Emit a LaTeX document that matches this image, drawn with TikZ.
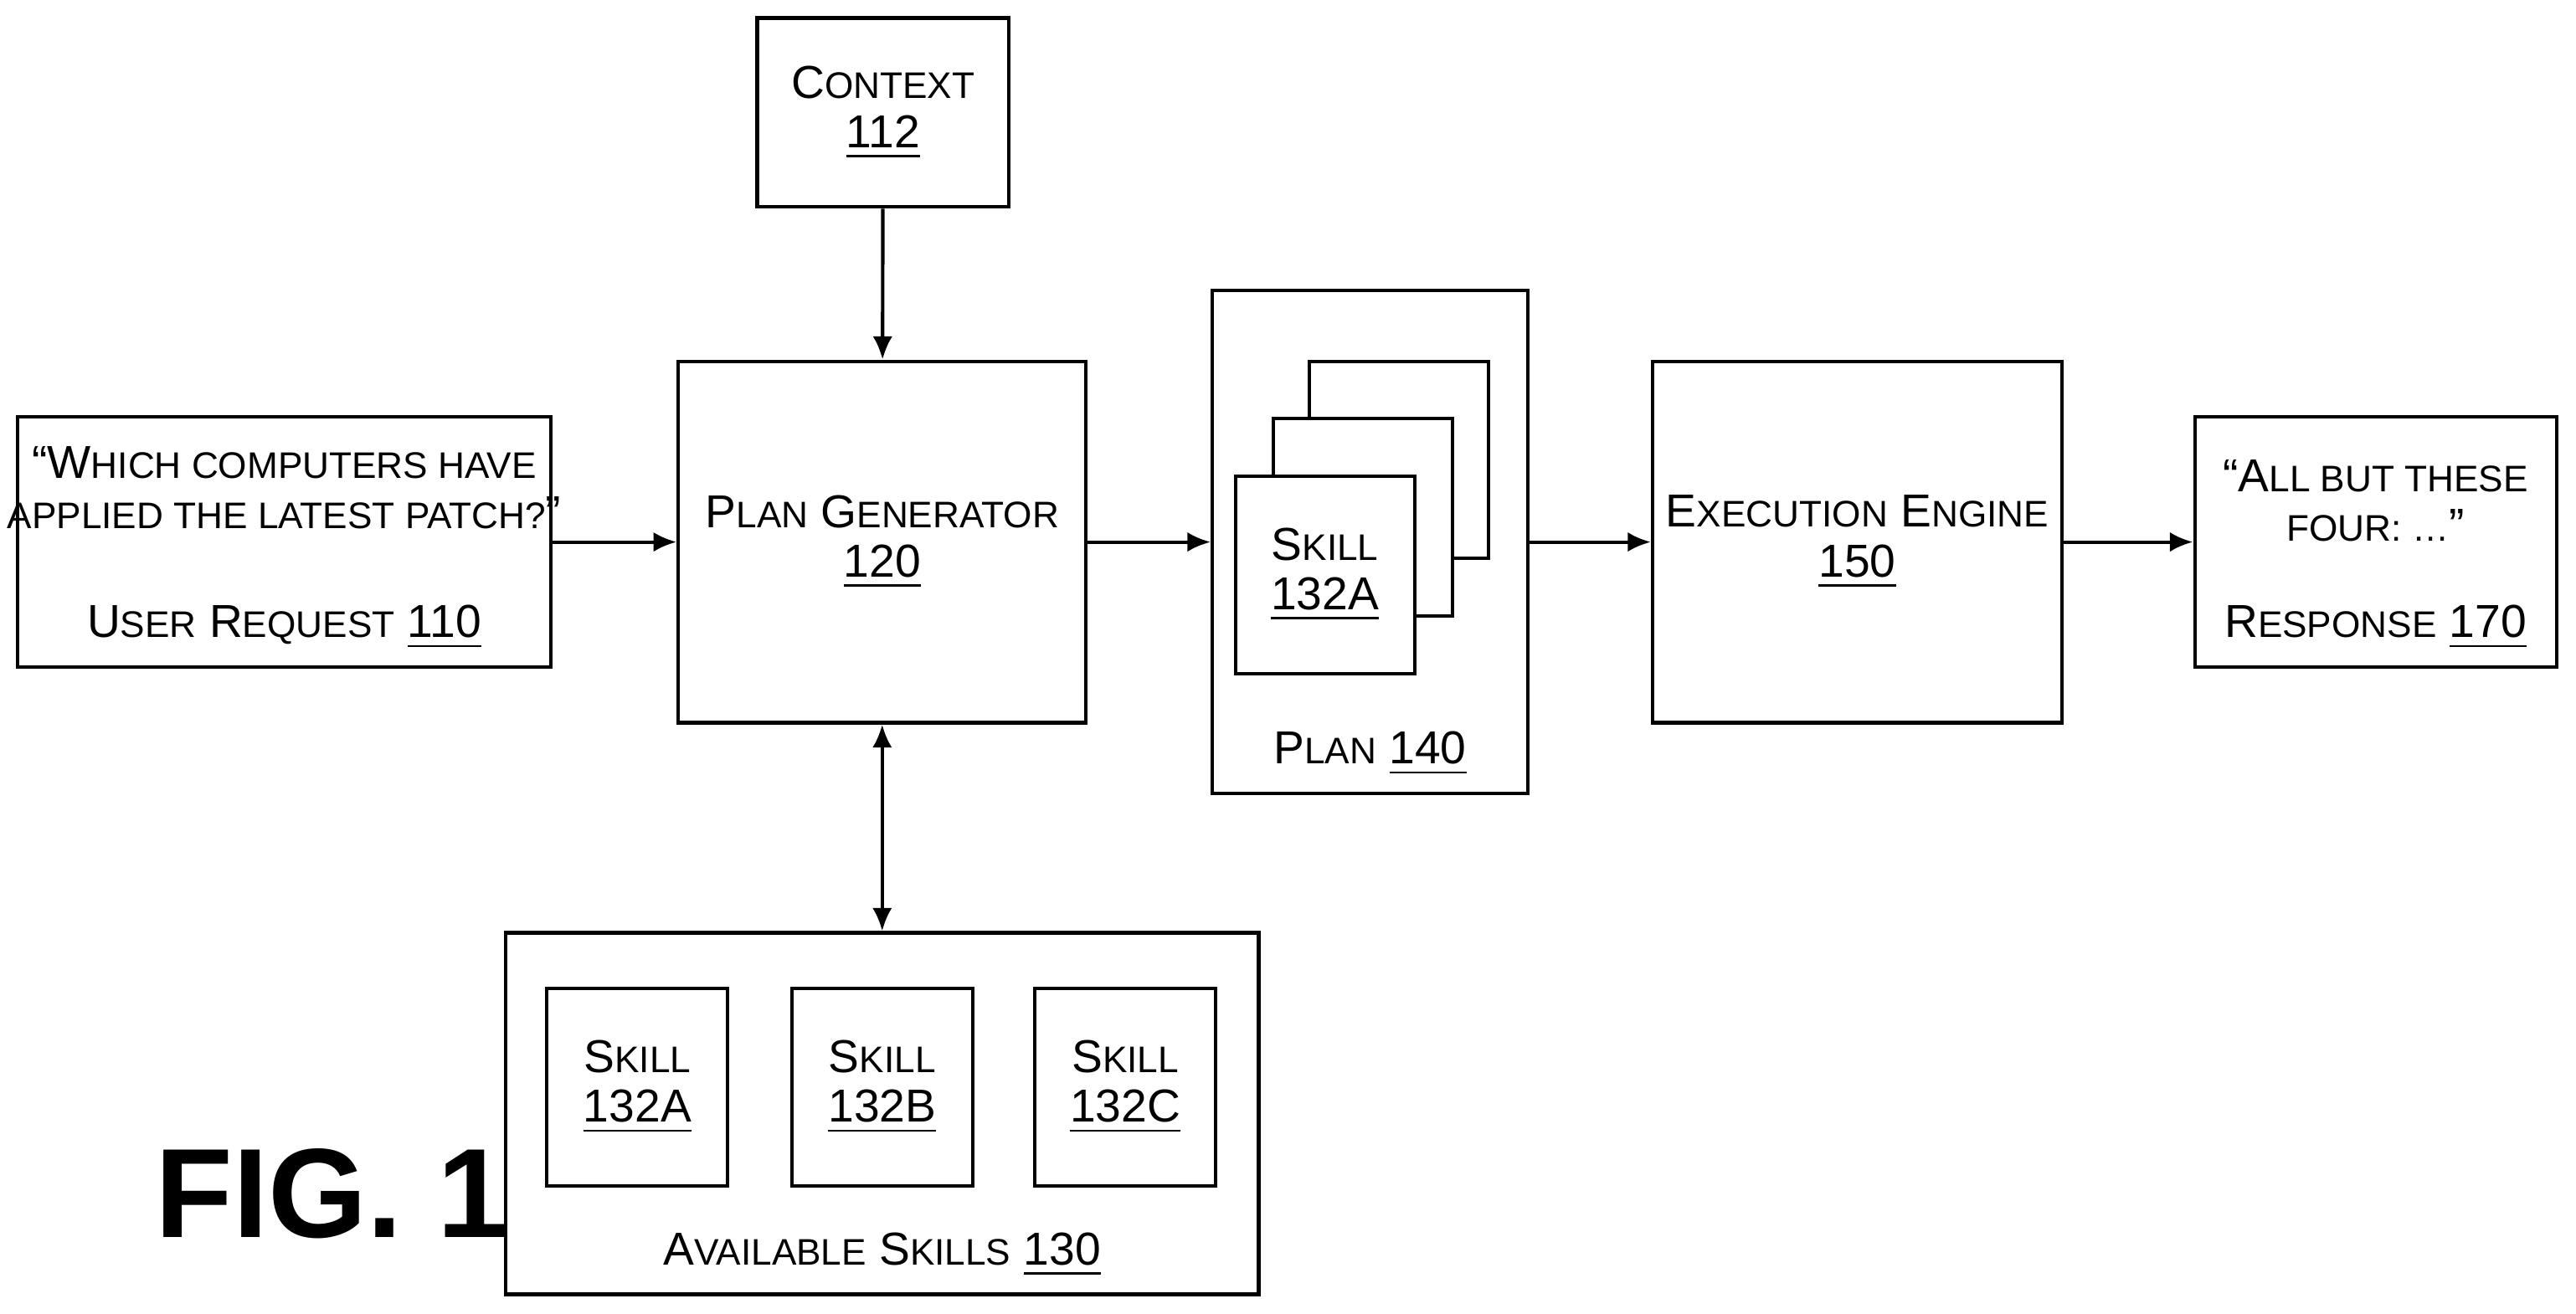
\documentclass[tikz,border=0pt]{standalone}
\usepackage{fontspec}
\setmainfont{Liberation Sans}
\usetikzlibrary{arrows.meta}

% fake small caps: first letter full size, rest smaller capitals
\newcommand{\smc}[2]{#1{\fontsize{6.4}{8.6}\selectfont\MakeUppercase{#2}}}

\tikzset{
  box/.style={draw, line width=0.6pt, inner sep=0pt, align=center,
    font=\fontsize{8}{8.6}\selectfont},
  label/.style={inner sep=0pt, align=center, font=\fontsize{8}{8.6}\selectfont},
  arr/.style={line width=0.6pt, -{Latex[length=4pt,width=3.4pt]}},
  darr/.style={line width=0.6pt, {Latex[length=4pt,width=3.4pt]}-{Latex[length=4pt,width=3.4pt]}}
}

\begin{document}
\begin{tikzpicture}[x=0.01cm,y=-0.01cm]
  \useasboundingbox (0,0) rectangle (1568,800);

  % main boxes
  \node[box, minimum width=1.53cm, minimum height=1.15cm] (context) at (537.5,68.5)
    {\smc{C}{ontext}\\\underline{112}};
  \node[box, minimum width=2.48cm, minimum height=2.2cm] (generator) at (537,330)
    {\smc{P}{lan} \smc{G}{enerator}\\\underline{120}};
  \node[box, minimum width=3.24cm, minimum height=1.52cm] (request) at (173,330) {};
  \node[box, minimum width=1.92cm, minimum height=3.06cm] (plan) at (834,330) {};
  \node[box, minimum width=2.49cm, minimum height=2.2cm] (engine) at (1130.5,330)
    {\smc{E}{xecution} \smc{E}{ngine}\\\underline{150}};
  \node[box, minimum width=2.2cm, minimum height=1.52cm] (response) at (1446,330) {};
  \node[box, minimum width=4.58cm, minimum height=2.2cm] (available) at (537,678) {};

  % texts of the boxes
  \node[label] (request text) at (173,297)
    {“\smc{W}{hich computers have}\\\smc{}{applied the latest patch?}”};
  \node[label] (request label) at (173,382) {\smc{U}{ser} \smc{R}{equest} \underline{110}};
  \node[label] (response text) at (1446,305) {“\smc{A}{ll but these}\\\smc{}{four: …}”};
  \node[label] (response label) at (1446,382) {\smc{R}{esponse} \underline{170}};
  \node[label] (plan label) at (834,459) {\smc{P}{lan} \underline{140}};
  \node[label] (available label) at (537,764) {\smc{A}{vailable} \smc{S}{kills} \underline{130}};

  % stacked skills of the plan
  \node[box, fill=white, minimum width=1.09cm, minimum height=1.2cm] (plan skill 3) at (851.5,280) {};
  \node[box, fill=white, minimum width=1.09cm, minimum height=1.2cm] (plan skill 2) at (829.5,315) {};
  \node[box, fill=white, minimum width=1.09cm, minimum height=1.2cm] (plan skill 1) at (806.5,350)
    {\smc{S}{kill}\\\underline{132A}};

  % available skills
  \foreach \x/\n [count=\i] in {388/A, 537/B, 685/C}
    \node[box, minimum width=1.1cm, minimum height=1.2cm] (skill \i) at (\x,662)
      {\smc{S}{kill}\\\underline{132\n}};

  \node[inner sep=0pt, font=\fontsize{22}{24}\selectfont\bfseries] (fig) at (202,727) {FIG. 1};

  % connectors
  \draw[arr] (context) -- (generator);
  \draw[arr] (request) -- (generator);
  \draw[arr] (generator) -- (plan);
  \draw[arr] (plan) -- (engine);
  \draw[arr] (engine) -- (response);
  \draw[darr] (generator) -- (available);
\end{tikzpicture}
\end{document}
